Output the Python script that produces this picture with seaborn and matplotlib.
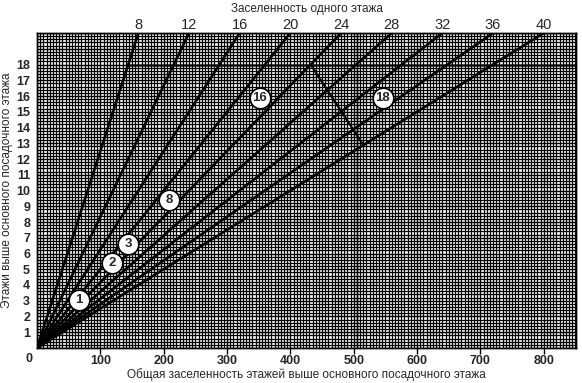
import numpy as np
import pandas as pd
import matplotlib
matplotlib.use('Agg')
import matplotlib.pyplot as plt
import seaborn as sns

# occupancy of one floor (top scale) -> radial lines from the origin
occupancy = [8, 12, 16, 20, 24, 28, 32, 36, 40]
floors_top = 20

# numbered example markers
marker_labels = ['1', '2', '3', '8', '16', '18']
marker_x = [66, 119, 144, 209, 352, 546]
marker_y = [3.05, 5.4, 6.6, 9.4, 15.9, 15.9]

# worked example path
path_x = [432, 515]
path_y = [18, 12.9]
guide_floor = 18
guide_total = 505

x_ticks = [100, 200, 300, 400, 500, 600, 700, 800]
y_ticks = list(range(1, 20))
y_ticklabels = [str(v) for v in range(1, 19)] + ['']

sns.set_style('white')
plt.rcParams['font.family'] = ['Liberation Sans', 'DejaVu Sans']

rows = []
for occ in occupancy:
    rows.append({'occ': occ, 'total': 0, 'floors': 0})
    rows.append({'occ': occ, 'total': occ * floors_top, 'floors': floors_top})
df = pd.DataFrame(rows)

fig = plt.figure(figsize=(5.82, 3.83), dpi=100)
ax = fig.add_axes([0.0636, 0.0914, 0.9261, 0.8224])

ax.set_xlim(0, 851)
ax.set_ylim(0, 20)

# graph-paper grid
ax.set_xticks(x_ticks)
ax.set_xticks(np.arange(0, 851, 5), minor=True)
ax.set_yticks(y_ticks)
ax.set_yticks(np.arange(0, 20.01, 0.2), minor=True)
ax.grid(which='minor', color='black', lw=0.9)
ax.grid(which='major', color='black', lw=1.0)
ax.set_axisbelow(True)

sns.lineplot(data=df, x='total', y='floors', units='occ', estimator=None,
             sort=False, color='black', lw=1.9, ax=ax, legend=False)

# example construction
ax.axhline(guide_floor, xmin=(occupancy[0] * guide_floor) / 851, color='black', lw=2.2, alpha=0.6)
ax.axvline(guide_total, color='black', lw=2.0, alpha=0.3)
ax.plot(path_x, path_y, color='black', lw=1.6)

ax.scatter(marker_x, marker_y, s=220, facecolor='white', edgecolor='black',
           linewidth=1.2, zorder=5)
for lab, mx, my in zip(marker_labels, marker_x, marker_y):
    ax.text(mx, my, lab, ha='center', va='center', fontsize=9.5,
            fontweight='bold', zorder=6)

ax.set_xticklabels([str(v) for v in x_ticks], fontsize=9, fontweight='bold')
ax.set_yticklabels(y_ticklabels, fontsize=9, fontweight='bold')
ax.tick_params(axis='both', which='major', direction='out', length=4,
               width=1, color='black', pad=1)
ax.tick_params(which='minor', length=0)
ax.text(-0.008, -0.015, '0', transform=ax.transAxes, ha='right', va='top',
        fontsize=9, fontweight='bold')

ax.set_xlabel('Общая заселенность этажей выше основного посадочного этажа',
              fontsize=8.5, labelpad=1)
ax.set_ylabel('Этажи выше основного посадочного этажа', fontsize=8.5, labelpad=2)

top = ax.twiny()
top.set_xlim(ax.get_xlim())
top.set_xticks([occ * floors_top for occ in occupancy])
top.set_xticklabels([str(o) for o in occupancy], fontsize=10.5)
top.tick_params(axis='x', length=0, pad=1)
top.set_xlabel('Заселенность одного этажа', fontsize=8.5, labelpad=4)

for a in (ax, top):
    for s in a.spines.values():
        s.set_color('black')
        s.set_linewidth(1.0)

fig.savefig('out.png', dpi=100)
